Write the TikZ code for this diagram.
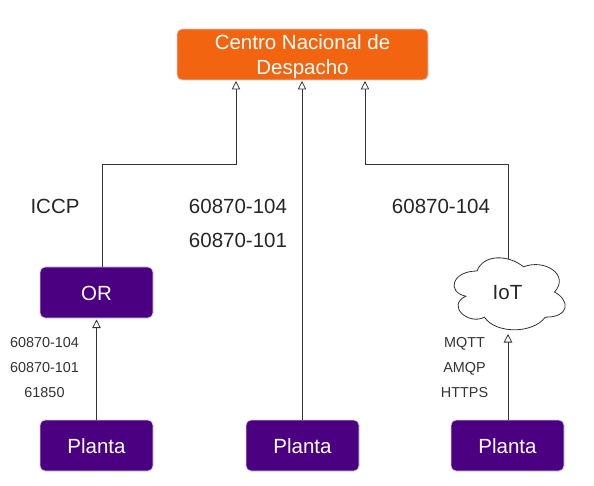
\documentclass[tikz,border=0pt]{standalone}
\usepackage{fontspec}
\setmainfont{Liberation Sans}
\usetikzlibrary{arrows.meta}
\definecolor{orangebox}{HTML}{F26410}
\definecolor{purplebox}{HTML}{4B0082}
\definecolor{boxedge}{HTML}{D5CFDC}
\definecolor{inkline}{HTML}{333333}
\newcommand{\boxtext}[2][-1pt]{\raisebox{#1}[\height][\depth]{#2}}
\tikzset{
  x=1pt,y=-1pt,
  box/.style={draw=boxedge,line width=0.8pt,rounded corners=5pt,inner sep=0pt,text=white,align=center,font=\fontsize{20.5}{25}\selectfont},
  plantbox/.style={box,fill=purplebox,minimum width=113pt,minimum height=51pt},
  conn/.style={draw=inkline,line width=0.8pt,-{Triangle[open,fill=white,length=8.5pt,width=8.5pt,line width=0.8pt]}},
  biglabel/.style={text=black!85,font=\fontsize{20.5}{27}\selectfont,inner sep=0pt},
  smalllabel/.style={text=inkline,font=\fontsize{14.4}{25}\selectfont,align=center,inner sep=0pt},
}
\begin{document}
\begin{tikzpicture}
\useasboundingbox (0,0) rectangle (594,486);
\fill[white] (0,0) rectangle (594,486);
\node[box,fill=orangebox,minimum width=251pt,minimum height=51pt] (cnd) at (302.5,54.5) {\boxtext[-2.5pt]{\begin{tabular}{@{}c@{}}Centro Nacional de\\Despacho\end{tabular}}};
\node[plantbox] (or) at (96.5,292.5) {\boxtext{OR}};
\node[plantbox] (p1) at (96.5,445.5) {\boxtext{Planta}};
\node[plantbox] (p2) at (302.5,445.5) {\boxtext{Planta}};
\node[plantbox] (p3) at (507.5,445.5) {\boxtext{Planta}};
% cloud
\def\cx{446} \def\cy{250} \def\cw{124} \def\ch{84}
\draw[draw=inkline,line width=0.8pt,fill=white]
 (\cx+.25*\cw,\cy+.25*\ch)
 .. controls (\cx+.05*\cw,\cy+.25*\ch) and (\cx,\cy+.5*\ch) .. (\cx+.16*\cw,\cy+.55*\ch)
 .. controls (\cx,\cy+.66*\ch) and (\cx+.18*\cw,\cy+.9*\ch) .. (\cx+.31*\cw,\cy+.8*\ch)
 .. controls (\cx+.4*\cw,\cy+\ch) and (\cx+.7*\cw,\cy+\ch) .. (\cx+.8*\cw,\cy+.8*\ch)
 .. controls (\cx+\cw,\cy+.8*\ch) and (\cx+\cw,\cy+.6*\ch) .. (\cx+.875*\cw,\cy+.5*\ch)
 .. controls (\cx+\cw,\cy+.3*\ch) and (\cx+.8*\cw,\cy+.1*\ch) .. (\cx+.625*\cw,\cy+.2*\ch)
 .. controls (\cx+.5*\cw,\cy+.05*\ch) and (\cx+.3*\cw,\cy+.05*\ch) .. cycle;
\node[font=\fontsize{20.5}{27}\selectfont,text=black!85,inner sep=0pt] (iot) at (507.5,293) {IoT};
\coordinate (iottop) at (508,259);
\coordinate (iotbottom) at (508,334);
\coordinate (ortop) at (102,267);
\coordinate (orin) at (236,81);
\coordinate (midin) at (302,81);
\coordinate (iotin) at (365,81);
\coordinate (orbottom) at (96.5,319.5);
\draw[conn] (ortop) |- (236,164) -- (orin);
\draw[conn] (p2.north -| midin) -- (midin);
\draw[conn] (iottop) |- (365,164) -- (iotin);
\draw[conn] (p1.north) -- (orbottom);
\draw[conn] (p3.north -| iottop) -- (iotbottom);
\node[biglabel] (iccp) at (55,206) {ICCP};
\node[biglabel] (a) at (238,206) {60870-104};
\node[biglabel] (b) at (238,240) {60870-101};
\node[biglabel] (c) at (441,206) {60870-104};
\node[smalllabel] (d) at (44.5,368) {60870-104\\60870-101\\61850};
\node[smalllabel] (e) at (464.5,368) {MQTT\\AMQP\\HTTPS};
\end{tikzpicture}
\end{document}
